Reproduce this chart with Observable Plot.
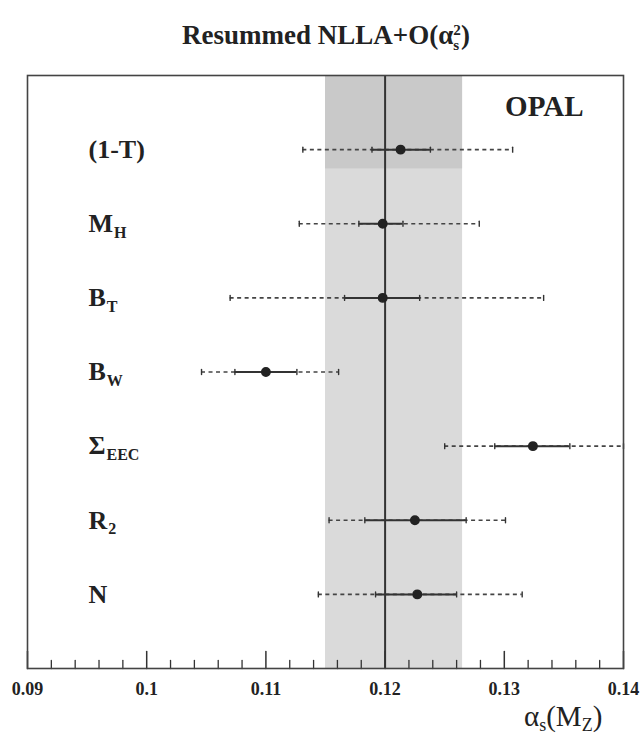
<!DOCTYPE html>
<html><head><meta charset="utf-8">
<script src="https://cdn.jsdelivr.net/npm/d3@7"></script>
<script src="https://cdn.jsdelivr.net/npm/@observablehq/plot@0.6"></script>
<style>
body{margin:0;background:#fff;}
#wrap{position:relative;width:640px;height:736px;font-family:"Liberation Serif","Times New Roman",serif;color:#222;}
#title{position:absolute;top:19px;left:6px;width:640px;text-align:center;font-weight:bold;font-size:27px;line-height:1.2;white-space:nowrap;}
.stack{display:inline-block;vertical-align:-0.42em;line-height:1;font-size:0.56em;text-align:left;}
.stack span{display:block;}
#xlabel{position:absolute;top:702px;left:524px;font-size:29px;line-height:1;white-space:nowrap;}
#xlabel sub{font-size:0.62em;vertical-align:-0.3em;}
#chart{position:absolute;top:0;left:0;}
</style>
</head><body>
<div id="wrap">
<div id="chart"></div>
<div id="title">Resummed NLLA+O(α<span class="stack"><span>2</span><span>s</span></span>)</div>
<div id="xlabel">α<sub>s</sub>(M<sub>Z</sub>)</div>
</div>
<script>
// Observables (rows, top to bottom)
const labels = ["(1-T)", "M", "B", "B", "Σ", "R", "N"];
const subs   = ["", "H", "T", "W", "EEC", "2", ""];
// alpha_s(M_Z) central values
const central = [0.1213, 0.1198, 0.1198, 0.1100, 0.1324, 0.1225, 0.1227];
// statistical (inner, solid) error bar ends
const statLo = [0.1189, 0.1178, 0.1166, 0.1074, 0.1292, 0.1183, 0.1192];
const statHi = [0.1238, 0.1215, 0.1229, 0.1126, 0.1355, 0.1268, 0.1260];
// total (outer, dashed) error bar ends
const totLo = [0.1131, 0.1128, 0.1070, 0.1046, 0.1250, 0.1153, 0.1144];
const totHi = [0.1307, 0.1279, 0.1333, 0.1161, 0.1400, 0.1301, 0.1315];
// combined result and its band
const combined = 0.120;
const bandLo = 0.1150;
const bandHi = 0.1265;
// axis ticks
const majorTicks = [0.09, 0.10, 0.11, 0.12, 0.13, 0.14];
const minorTicks = [0.092, 0.094, 0.096, 0.098, 0.102, 0.104, 0.106, 0.108,
                    0.112, 0.114, 0.116, 0.118, 0.122, 0.124, 0.126, 0.128,
                    0.132, 0.134, 0.136, 0.138];

const data = labels.map((l, i) => ({
  label: l, sub: subs[i], row: i + 1,
  central: central[i], statLo: statLo[i], statHi: statHi[i],
  totLo: totLo[i], totHi: totHi[i]
}));
const ends = data.flatMap(d => [
  {x: d.statLo, row: d.row}, {x: d.statHi, row: d.row},
  {x: d.totLo, row: d.row}, {x: d.totHi, row: d.row}
]);

const FONT = "Liberation Serif";
const labelSize = 26;
const ctx = document.createElement("canvas").getContext("2d");
ctx.font = `bold ${labelSize}px "${FONT}"`;
const measure = s => ctx.measureText(s).width;

const lineShape = {draw(c, l) { c.moveTo(0, 0); c.lineTo(0, -l); }};
const labelDx = 61;

const plot = Plot.plot({
  width: 640, height: 736,
  marginLeft: 27, marginRight: 17, marginTop: 75, marginBottom: 68,
  style: {fontFamily: FONT, background: "#fff", color: "#222"},
  x: {domain: [0.09, 0.14]},
  y: {domain: [8, 0], axis: null},
  marks: [
    Plot.rect([{}], {x1: bandLo, x2: bandHi, y1: 0, y2: 8, fill: "#dadada"}),
    Plot.rect([{}], {x1: bandLo, x2: bandHi, y1: 0, y2: 1.26, fill: "#c9c9c9"}),
    Plot.ruleX([combined], {y1: 0, y2: 8, stroke: "#333", strokeWidth: 2}),
    Plot.ruleY(data, {y: "row", x1: "totLo", x2: "totHi", stroke: "#444", strokeWidth: 1.6, strokeDasharray: "4,3.5"}),
    Plot.ruleY(data, {y: "row", x1: "statLo", x2: "statHi", stroke: "#333", strokeWidth: 2}),
    Plot.vector(ends, {x: "x", y: "row", length: 5, anchor: "middle", shape: lineShape, stroke: "#333", strokeWidth: 1.4}),
    Plot.dot(data, {x: "central", y: "row", r: 4.2, fill: "#222", stroke: "#222"}),
    Plot.text(data, {text: "label", y: "row", frameAnchor: "left", dx: labelDx, textAnchor: "start",
      fontSize: labelSize, fontWeight: "bold", fill: "#222"}),
    ...data.filter(d => d.sub).map(d =>
      Plot.text([d], {text: "sub", y: "row", frameAnchor: "left", dx: labelDx + measure(d.label) + 1, dy: 9,
        textAnchor: "start", fontSize: 16, fontWeight: "bold", fill: "#222"})),
    Plot.text(["OPAL"], {text: d => d, frameAnchor: "top-right", dx: -40, dy: 20, textAnchor: "end", lineAnchor: "top",
      fontSize: 29, fontWeight: "bold", fill: "#222"}),
    Plot.vector(majorTicks, {x: d => d, frameAnchor: "bottom", length: 17, anchor: "start", shape: lineShape, stroke: "#333", strokeWidth: 1.5}),
    Plot.vector(minorTicks, {x: d => d, frameAnchor: "bottom", length: 8, anchor: "start", shape: lineShape, stroke: "#333", strokeWidth: 1.3}),
    Plot.axisX(majorTicks, {tickSize: 0, tickPadding: 14, label: null, fontSize: 18, fontWeight: "bold",
      tickFormat: d => String(+d.toFixed(2)), fill: "#222"}),
    Plot.frame({stroke: "#444", strokeWidth: 1.6})
  ]
});
document.getElementById("chart").appendChild(plot);
</script>
</body></html>
